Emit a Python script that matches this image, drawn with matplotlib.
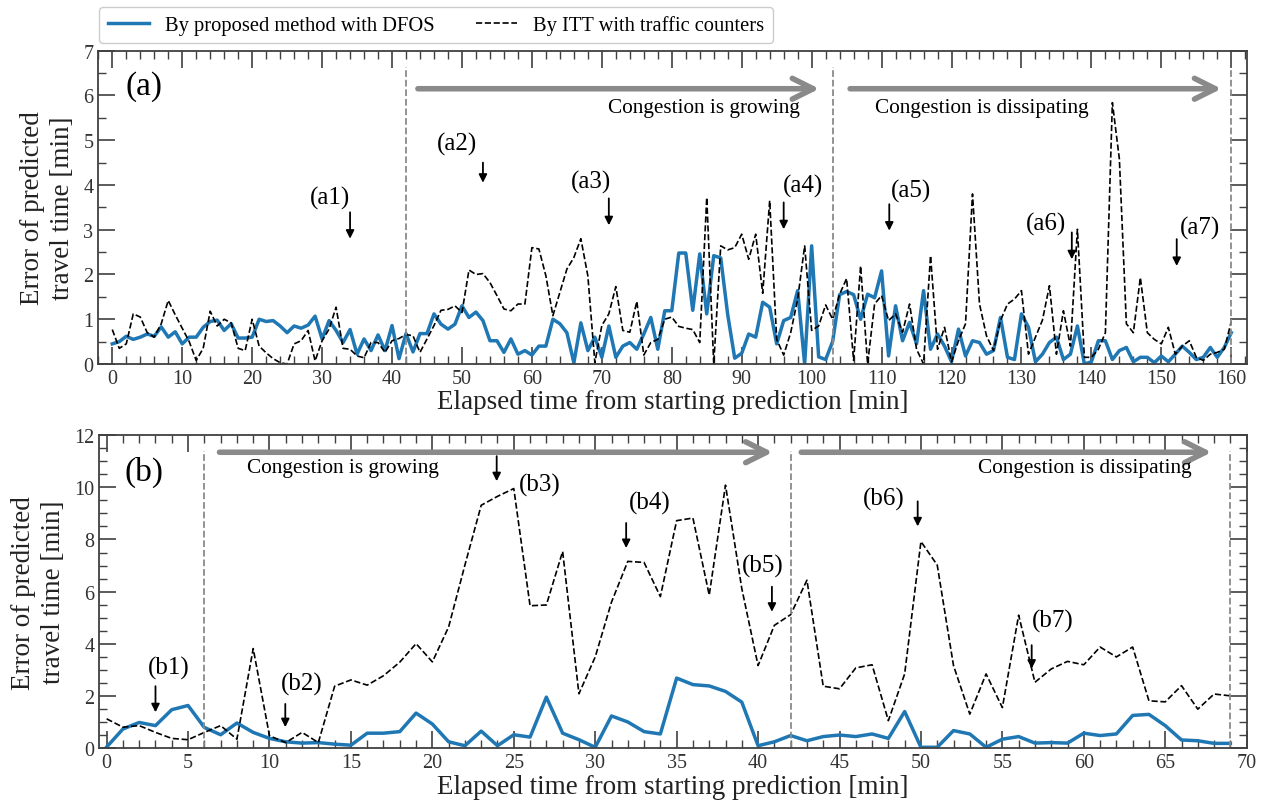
import matplotlib.pyplot as plt
from matplotlib.lines import Line2D
from matplotlib.ticker import MultipleLocator

plt.rcParams['font.family'] = 'Liberation Serif'

# ---- panel (a): one value per minute, 0..160 ----
t_a = list(range(161))
dfos_a = [0.45, 0.5, 0.62, 0.55, 0.6, 0.67, 0.62, 0.83, 0.6, 0.72,
          0.45, 0.6, 0.6, 0.82, 0.95, 0.98, 0.75, 0.9, 0.58, 0.58,
          0.6, 1.0, 0.95, 0.97, 0.85, 0.7, 0.85, 0.8, 0.87, 1.07,
          0.56, 0.97, 0.75, 0.48, 0.77, 0.22, 0.56, 0.3, 0.65, 0.3,
          0.86, 0.12, 0.68, 0.27, 0.68, 0.68, 1.12, 0.89, 0.78, 0.89,
          1.3, 1.04, 1.16, 0.97, 0.52, 0.52, 0.26, 0.56, 0.22, 0.3,
          0.2, 0.4, 0.4, 1.0, 0.9, 0.7, 0.03, 0.92, 0.3, 0.6,
          0.15, 0.85, 0.15, 0.4, 0.48, 0.33, 0.67, 1.04, 0.33, 1.19,
          1.19, 2.48, 2.48, 1.2, 2.46, 1.12, 2.42, 2.37, 1.1, 0.13,
          0.24, 0.67, 0.6, 1.38, 1.27, 0.45, 0.97, 1.04, 1.64, 0.0,
          2.64, 0.16, 0.1, 0.5, 1.55, 1.62, 1.55, 1.0, 1.56, 1.48,
          2.08, 0.18, 1.3, 0.52, 0.93, 0.45, 1.64, 0.33, 0.67, 0.4,
          0.05, 0.78, 0.18, 0.52, 0.48, 0.22, 0.3, 1.04, 0.15, 0.1,
          1.12, 0.82, 0.05, 0.22, 0.48, 0.6, 0.1, 0.22, 0.85, 0.0,
          0.05, 0.52, 0.52, 0.1, 0.3, 0.37, 0.05, 0.15, 0.15, 0.03,
          0.18, 0.05, 0.22, 0.4, 0.26, 0.1, 0.15, 0.37, 0.15, 0.37,
          0.7]
itt_a = [0.77, 0.35, 0.45, 1.12, 1.05, 0.7, 0.6, 0.9, 1.42, 1.1,
         0.8, 0.5, 0.08, 0.35, 1.18, 0.85, 1.0, 0.92, 0.35, 0.3,
         1.0, 0.4, 0.25, 0.12, 0.03, 0.0, 0.45, 0.52, 0.75, 0.07,
         0.52, 0.78, 1.27, 0.35, 0.33, 0.18, 0.14, 0.48, 0.48, 0.26,
         0.52, 0.57, 0.66, 0.63, 0.26, 0.56, 0.86, 1.2, 1.22, 1.3,
         1.15, 2.1, 2.0, 2.02, 1.82, 1.53, 1.23, 1.19, 1.34, 1.34,
         2.6, 2.57, 1.97, 1.08, 1.6, 2.12, 2.38, 2.8, 1.97, 0.03,
         0.86, 1.12, 1.73, 0.75, 0.71, 1.4, 0.2, 0.48, 0.55, 1.0,
         1.05, 0.84, 0.8, 0.77, 0.48, 3.72, 0.0, 2.64, 2.55, 2.6,
         2.9, 2.34, 2.9, 1.58, 3.65, 0.55, 0.2, 0.7, 1.45, 2.64,
         0.75, 0.85, 1.32, 1.0, 1.56, 1.91, 0.08, 2.19, 0.0, 1.34,
         1.53, 0.97, 1.12, 0.71, 1.34, 0.33, 0.0, 2.42, 0.33, 0.82,
         0.05, 0.52, 0.9, 3.8, 1.34, 0.63, 0.3, 0.97, 1.34, 1.45,
         1.64, 0.22, 0.6, 0.98, 1.75, 0.22, 1.19, 0.4, 3.01, 0.15,
         0.15, 0.33, 0.7, 5.84, 4.58, 0.9, 0.7, 1.93, 0.7, 0.55,
         0.45, 0.82, 0.22, 0.4, 0.52, 0.15, 0.08, 0.22, 0.26, 0.33,
         0.95]

# ---- panel (b): one value per minute, 0..69 ----
t_b = list(range(70))
dfos_b = [0.05, 0.74, 0.99, 0.87, 1.48, 1.64, 0.8, 0.52, 0.97, 0.61,
          0.38, 0.25, 0.2, 0.22, 0.16, 0.12, 0.58, 0.58, 0.64, 1.35,
          0.93, 0.25, 0.1, 0.66, 0.1, 0.52, 0.43, 1.96, 0.58, 0.33,
          0.04, 1.24, 1.01, 0.64, 0.55, 2.69, 2.44, 2.39, 2.18, 1.77,
          0.1, 0.25, 0.49, 0.29, 0.45, 0.51, 0.45, 0.55, 0.38, 1.41,
          0.04, 0.04, 0.68, 0.55, 0.04, 0.35, 0.45, 0.2, 0.22, 0.2,
          0.58, 0.49, 0.55, 1.26, 1.3, 0.87, 0.32, 0.29, 0.19, 0.19]
itt_b = [1.13, 0.81, 0.87, 0.61, 0.38, 0.33, 0.61, 0.87, 0.35, 3.82,
         0.48, 0.22, 0.61, 0.22, 2.38, 2.62, 2.42, 2.78, 3.3, 4.01,
         3.31, 4.65, 7.02, 9.31, 9.65, 9.95, 5.46, 5.49, 7.54, 2.09,
         3.5, 5.6, 7.16, 7.12, 5.81, 8.72, 8.82, 5.87, 10.08, 6.12,
         3.17, 4.71, 5.12, 6.44, 2.38, 2.28, 3.08, 3.2, 1.06, 2.85,
         7.92, 7.02, 3.17, 1.31, 2.85, 1.56, 5.1, 2.53, 3.04, 3.33,
         3.2, 3.88, 3.5, 3.88, 1.82, 1.78, 2.4, 1.5, 2.08, 2.01]

# phase boundaries (min)
bounds_a = [42, 103, 160]
bounds_b = [6, 42, 69]

# event labels: text pos, arrow x, arrow tail / head
lab_a = ['(a1)', '(a2)', '(a3)', '(a4)', '(a5)', '(a6)', '(a7)']
lab_a_xy = [(31.1, 3.73), (49.3, 4.93), (68.5, 4.07), (98.8, 3.98),
            (114.2, 3.87), (133.5, 3.14), (155.5, 3.05)]
arr_a = [(34, 3.39, 2.8), (53, 4.5, 4.05), (71, 3.7, 3.1), (96, 3.61, 3.01),
         (111.1, 3.57, 2.98), (137.2, 2.94, 2.34), (152.2, 2.79, 2.19)]
lab_b = ['(b1)', '(b2)', '(b3)', '(b4)', '(b5)', '(b6)', '(b7)']
lab_b_xy = [(3.84, 3.08), (11.95, 2.5), (26.6, 10.1), (33.35, 9.43),
            (40.3, 6.99), (47.7, 9.56), (58.1, 4.88)]
arr_b = [(3.0, 2.38, 1.38), (10.97, 1.7, 0.81), (23.95, 11.19, 10.23),
         (31.9, 8.63, 7.67), (40.85, 6.19, 5.23), (49.8, 9.46, 8.5),
         (56.8, 3.95, 3.05)]

blue = '#1f77b4'
grey = '#8a8a8a'
axcol = '#404040'

fig = plt.figure(figsize=(12.65, 8.04), dpi=100)
ax1 = fig.add_axes([0.0777, 0.546, 0.9078, 0.3897])
ax2 = fig.add_axes([0.0785, 0.068, 0.907, 0.3897])


def style(ax, xmaj, xmin, ymaj, ymin):
    ax.xaxis.set_major_locator(MultipleLocator(xmaj))
    ax.xaxis.set_minor_locator(MultipleLocator(xmin))
    ax.yaxis.set_major_locator(MultipleLocator(ymaj))
    ax.yaxis.set_minor_locator(MultipleLocator(ymin))
    ax.tick_params(which='both', direction='in', top=True, right=True,
                   colors=axcol, labelcolor='#333333', labelsize=14.5)
    ax.tick_params(which='major', length=12, width=1.2)
    ax.tick_params(which='minor', length=6, width=1.0)
    for s in ax.spines.values():
        s.set_color(axcol)
        s.set_linewidth(1.3)
    ax.set_xlabel('Elapsed time from starting prediction [min]', fontsize=19.5,
                  labelpad=1, color='#222222')
    ax.set_ylabel('Error of predicted\ntravel time [min]', fontsize=19.5,
                  labelpad=6, color='#222222', linespacing=1.25)


def arrow(ax, x0, x1, y):
    ax.annotate('', xy=(x1, y), xytext=(x0, y),
                arrowprops=dict(arrowstyle='->, head_length=1.0, head_width=0.5',
                                color=grey, lw=4, mutation_scale=15,
                                shrinkA=0, shrinkB=0))


# ---- (a) ----
ax1.plot(t_a, dfos_a, color=blue, lw=2.5)
ax1.plot(t_a, itt_a, color='k', lw=1.2, ls='--')
for b in bounds_a:
    ax1.axvline(b, ymin=0, ymax=0.947, color=grey, lw=1.3, ls='--')
ax1.set_xlim(-2, 162.2)
ax1.set_ylim(0, 7)
style(ax1, 10, 2, 1, 0.5)
arrow(ax1, 43.7, 101.1, 6.15)
arrow(ax1, 105.5, 158.6, 6.15)
ax1.text(98.3, 5.74, 'Congestion is growing', ha='right', va='center', fontsize=15.3)
ax1.text(109.1, 5.74, 'Congestion is dissipating', ha='left', va='center', fontsize=15.3)
ax1.text(1.9, 6.21, '(a)', ha='left', va='center', fontsize=24)
for s, (x, y), (ax_, y0, y1) in zip(lab_a, lab_a_xy, arr_a):
    ax1.text(x, y, s, ha='center', va='center', fontsize=18)
    ax1.annotate('', xy=(ax_, y1), xytext=(ax_, y0),
                 arrowprops=dict(arrowstyle='-|>', color='k', lw=1.3,
                                 mutation_scale=12, shrinkA=0, shrinkB=0))

# ---- (b) ----
ax2.plot(t_b, dfos_b, color=blue, lw=2.5)
ax2.plot(t_b, itt_b, color='k', lw=1.2, ls='--')
for b in bounds_b:
    ax2.axvline(b, ymin=0, ymax=0.948, color=grey, lw=1.3, ls='--')
ax2.set_xlim(-0.45, 70)
ax2.set_ylim(0, 12)
style(ax2, 5, 1, 2, 0.5)
arrow(ax2, 6.93, 40.9, 11.34)
arrow(ax2, 42.65, 67.85, 11.34)
ax2.text(8.6, 10.74, 'Congestion is growing', ha='left', va='center', fontsize=15.3)
ax2.text(66.6, 10.74, 'Congestion is dissipating', ha='right', va='center', fontsize=15.3)
ax2.text(1.12, 10.6, '(b)', ha='left', va='center', fontsize=24)
for s, (x, y), (ax_, y0, y1) in zip(lab_b, lab_b_xy, arr_b):
    ax2.text(x, y, s, ha='center', va='center', fontsize=18)
    ax2.annotate('', xy=(ax_, y1), xytext=(ax_, y0),
                 arrowprops=dict(arrowstyle='-|>', color='k', lw=1.3,
                                 mutation_scale=12, shrinkA=0, shrinkB=0))

handles = [Line2D([], [], color=blue, lw=2.5),
           Line2D([], [], color='k', lw=1.2, ls='--')]
fig.legend(handles, ['By proposed method with DFOS', 'By ITT with traffic counters'],
           loc='upper left', bbox_to_anchor=(0.0785, 0.99), ncol=2, fontsize=14.8,
           frameon=True, fancybox=True, edgecolor='#cccccc', framealpha=1,
           borderaxespad=0)

fig.savefig('out.png', dpi=100)
